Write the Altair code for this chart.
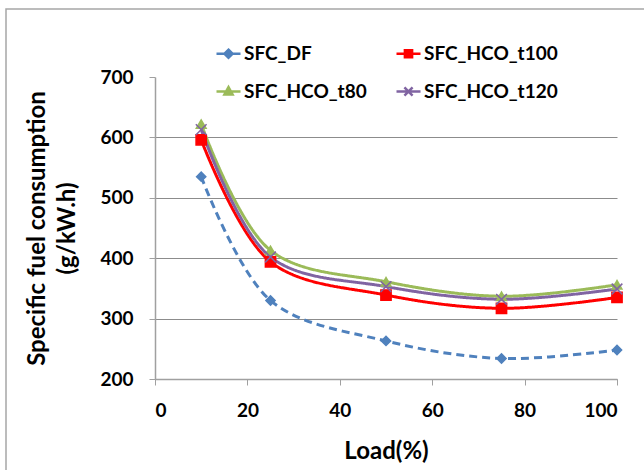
import altair as alt
import pandas as pd

load = [10, 25, 50, 75, 100]
sfc_df = [535, 330, 263, 234, 248]
sfc_t100 = [596, 394, 339, 317, 335]
sfc_t80 = [622, 413, 361, 337, 356]
sfc_t120 = [613, 402, 353, 332, 349]

series_names = ["SFC_DF", "SFC_HCO_t100", "SFC_HCO_t80", "SFC_HCO_t120"]
series_values = [sfc_df, sfc_t100, sfc_t80, sfc_t120]
colors = ["#4F81BD", "#FF0000", "#9BBB59", "#8064A2"]
dashes = [[8, 5], [1, 0], [1, 0], [1, 0]]
chart_shapes = ["diamond", "square", "triangle-up", "M-1,-1L1,1M1,-1L-1,1"]
marker_sizes = [85, 130, 115, 100]
legend_shapes = [
    "M-1,0L1,0M0,-0.34L0.34,0L0,0.34L-0.34,0ZM0,-0.16L0.16,0L0,0.16L-0.16,0Z",
    "M-1,0L1,0M-0.3,-0.3L0.3,-0.3L0.3,0.3L-0.3,0.3ZM-0.12,-0.12L0.12,-0.12L0.12,0.12L-0.12,0.12Z",
    "M-1,0L1,0M0,-0.36L0.34,0.26L-0.34,0.26ZM0,-0.14L0.14,0.14L-0.14,0.14Z",
    "M-1,0L1,0M-0.34,-0.34L0.34,0.34M0.34,-0.34L-0.34,0.34",
]

# legend is laid out column by column: reorder domain so rows read DF, t100 / t80, t120
legend_order = [0, 2, 1, 3]
dom = [series_names[i] for i in legend_order]
rng_colors = [colors[i] for i in legend_order]
rng_dash = [dashes[i] for i in legend_order]
rng_shapes = [chart_shapes[i] for i in legend_order]
rng_sizes = [marker_sizes[i] for i in legend_order]
rng_legend_shapes = [legend_shapes[i] for i in legend_order]

rows = []
for name, vals in zip(series_names, series_values):
    for x, v in zip(load, vals):
        rows.append({"series": name, "load": x, "sfc": v})
df = pd.DataFrame(rows)

FONT = "Lato"

x_enc = alt.X(
    "load:Q",
    scale=alt.Scale(domain=[0, 100], nice=False),
    axis=alt.Axis(
        values=[0, 20, 40, 60, 80, 100],
        title="Load(%)",
        grid=False,
        tickSize=6,
        labelPadding=16,
        titlePadding=19,
    ),
)
y_enc = alt.Y(
    "sfc:Q",
    scale=alt.Scale(domain=[200, 700], nice=False, zero=False),
    axis=alt.Axis(
        values=[200, 300, 400, 500, 600, 700],
        title=["Specific fuel consumption", "(g/kW.h)"],
        grid=True,
        gridOpacity=alt.condition("datum.value == 700", alt.value(0), alt.value(1)),
        tickSize=6,
        labelPadding=16,
        titlePadding=20,
        titleLineHeight=30,
    ),
)

color_scale = alt.Scale(domain=dom, range=rng_colors)

lines = alt.Chart(df).mark_line(interpolate="catmull-rom", strokeWidth=3).encode(
    x=x_enc,
    y=y_enc,
    stroke=alt.Stroke("series:N", scale=color_scale, legend=None),
    strokeDash=alt.StrokeDash(
        "series:N", scale=alt.Scale(domain=dom, range=rng_dash), legend=None
    ),
)

points = alt.Chart(df).mark_point(filled=True, strokeWidth=1.5, opacity=1).encode(
    x="load:Q",
    y="sfc:Q",
    fill=alt.Fill("series:N", scale=color_scale, legend=None),
    stroke=alt.Stroke("series:N", scale=color_scale, legend=None),
    shape=alt.Shape(
        "series:N", scale=alt.Scale(domain=dom, range=rng_shapes), legend=None
    ),
    size=alt.Size("series:N", scale=alt.Scale(domain=dom, range=rng_sizes), legend=None),
)

legend = alt.Legend(
    title=None,
    orient="none",
    legendX=60,
    legendY=-37,
    columns=2,
    columnPadding=24,
    rowPadding=14,
    padding=0,
    labelOffset=2,
    labelFont=FONT,
    labelFontSize=19,
    labelFontWeight="bold",
    labelColor="#000000",
    symbolSize=576,
    symbolStrokeWidth=2.5,
)

legend_layer = (
    alt.Chart(df)
    .transform_filter("false")
    .mark_point(filled=False, strokeWidth=2.5, opacity=1)
    .encode(
        color=alt.Color("series:N", scale=color_scale, legend=legend),
        shape=alt.Shape(
            "series:N",
            scale=alt.Scale(domain=dom, range=rng_legend_shapes),
            legend=legend,
        ),
    )
)

border = alt.Chart(pd.DataFrame({"a": [0]})).mark_rect(
    fillOpacity=0, stroke="#a6a6a6", strokeWidth=1.5
).encode(
    x=alt.value(-149), x2=alt.value(520), y=alt.value(-68), y2=alt.value(120 + 302)
)

chart = (
    alt.layer(border, lines, points, legend_layer)
    .resolve_scale(shape="independent", color="independent")
    .properties(
        width=462,
        height=302,
        background="white",
        autosize=alt.AutoSizeParams(type="none"),
        padding={"left": 155, "top": 77, "right": 27, "bottom": 91},
    )
    .configure_view(stroke=None)
    .configure_axis(
        labelFont=FONT,
        labelFontSize=19,
        labelFontWeight="bold",
        labelColor="#000000",
        titleFont=FONT,
        titleFontSize=24,
        titleFontWeight="bold",
        titleColor="#000000",
        domainColor="#a0a0a0",
        tickColor="#a0a0a0",
        gridColor="#8c8c8c",
        gridWidth=1,
        domainWidth=1.5,
    )
)

chart.save("out.html", embed_options={"renderer": "svg", "actions": False})
